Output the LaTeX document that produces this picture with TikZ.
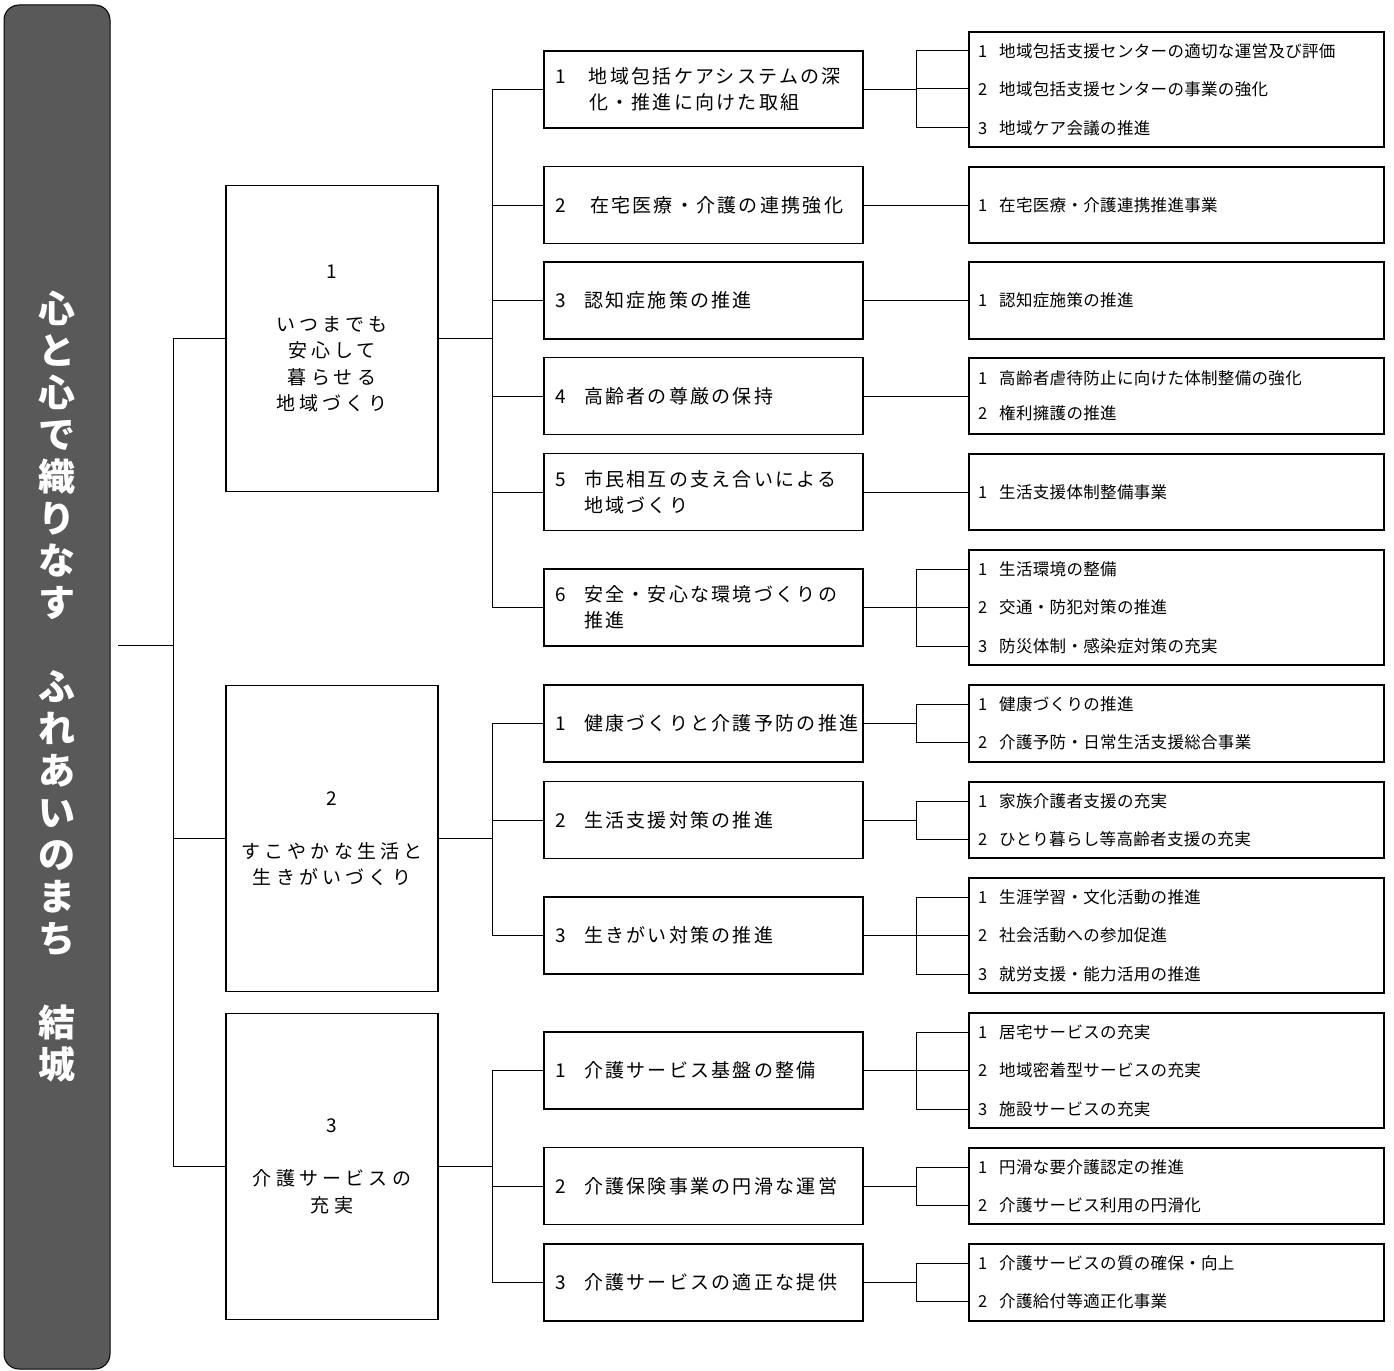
\documentclass[tikz,border=0pt]{standalone}
\usepackage{fontspec}
\setmainfont{Noto Sans CJK JP}
\newfontfamily\goalfont[LetterSpace=22]{Noto Sans CJK JP}
\newfontfamily\boxfont[LetterSpace=12]{Noto Sans CJK JP}
\newfontfamily\itemfont[LetterSpace=2]{Noto Sans CJK JP}
\usetikzlibrary{positioning,calc}
\definecolor{bargray}{RGB}{89,89,89}
\newcommand\pno[2][29pt]{\makebox[#1][l]{#2}}
\newcommand\mno[1]{\makebox[21pt][l]{#1}}
\tikzset{%
  vision bar/.style={%
    draw,
    line width=1pt,
    fill=bargray,
    rounded corners=15pt,
    minimum width=106pt,
    minimum height=1364pt,
    inner sep=0pt,
    align=center,
    text=white,
    font=\bfseries\fontsize{37}{42}\selectfont
  }
}
\tikzset{%
  goal box/.style={%
    draw,
    line width=1.2pt,
    minimum width=212pt,
    minimum height=306pt,
    inner sep=0pt,
    align=center,
    font=\goalfont\fontsize{19}{26.5}\selectfont
  }
}
\tikzset{%
  policy box/.style={%
    draw,
    line width=1.2pt,
    text width=297pt,
    inner xsep=11pt,
    minimum height=77pt,
    align=left,
    font=\boxfont\fontsize{19}{26.5}\selectfont
  }
}
\tikzset{%
  measure box/.style={%
    draw,
    line width=1.2pt,
    minimum width=415pt,
    inner sep=0pt
  }
}
\tikzset{%
  measure/.style={%
    anchor=west,
    inner sep=0pt,
    font=\itemfont\fontsize{16.5}{20}\selectfont
  }
}
\tikzset{%
  link/.style={%
    line width=1pt
  }
}
\begin{document}
\begin{tikzpicture}[x=1pt,y=-1pt]
  \useasboundingbox (0,0) rectangle (1394,1370);
  % vision
  \node [vision bar] (vision) at (57,687) {心\\と\\心\\で\\織\\り\\な\\す\\[42pt]ふ\\れ\\あ\\い\\の\\ま\\ち\\[42pt]結\\城};
  % goals
  \node [goal box] (g1) at (332,338.5) {1\\[26.5pt]いつまでも\\安心して\\暮らせる\\地域づくり};
  \node [goal box] (g2) at (332,838.5) {2\\[26.5pt]すこやかな生活と\\生きがいづくり};
  \node [goal box] (g3) at (332,1166.5) {3\\[26.5pt]介護サービスの\\充実};
  \coordinate (root) at (118,645);
  \coordinate (j0) at (173,645);
  \draw [link] (root) -- (j0);
  \draw [link] (g1.west) -- (g1.west -| j0) -- (g3.west -| j0) -- (g3.west);
  \draw [link] (g2.west) -- (g2.west -| j0);
  % policies
  \node [policy box] (p11) at (703.5,89.5) {\pno[34pt]{1}地域包括ケアシステムの深\\\pno[34pt]{}化・推進に向けた取組};
  \node [policy box] (p12) at (703.5,205) {\pno[35pt]{2}在宅医療・介護の連携強化};
  \node [policy box] (p13) at (703.5,300.5) {\pno{3}認知症施策の推進};
  \node [policy box] (p14) at (703.5,396) {\pno{4}高齢者の尊厳の保持};
  \node [policy box] (p15) at (703.5,492) {\pno{5}市民相互の支え合いによる\\\pno{}地域づくり};
  \node [policy box] (p16) at (703.5,607.5) {\pno{6}安全・安心な環境づくりの\\\pno{}推進};
  \node [policy box] (p21) at (703.5,723.5) {\pno{1}健康づくりと介護予防の推進};
  \node [policy box] (p22) at (703.5,820) {\pno{2}生活支援対策の推進};
  \node [policy box] (p23) at (703.5,935.5) {\pno{3}生きがい対策の推進};
  \node [policy box] (p31) at (703.5,1070.5) {\pno{1}介護サービス基盤の整備};
  \node [policy box] (p32) at (703.5,1186) {\pno{2}介護保険事業の円滑な運営};
  \node [policy box] (p33) at (703.5,1282.5) {\pno{3}介護サービスの適正な提供};
  \coordinate (j1) at (492,0);
  \foreach \g/\first/\last/\all in {g1/p11/p16/{p11,p12,p13,p14,p15,p16},g2/p21/p23/{p21,p22,p23},g3/p31/p33/{p31,p32,p33}} {
    \draw [link] (\g.east) -- (\g.east -| j1);
    \draw [link] (\first.west -| j1) -- (\last.west -| j1);
    \foreach \p in \all
      \draw [link] (\p.west) -- (\p.west -| j1);
  }
  % measures
  \node [measure box, minimum height=115pt] (m11) at (1176.5,89.5) {};
  \node [measure box, minimum height=76pt] (m12) at (1176.5,205) {};
  \node [measure box, minimum height=77pt] (m13) at (1176.5,300.5) {};
  \node [measure box, minimum height=76pt] (m14) at (1176.5,396) {};
  \node [measure box, minimum height=76pt] (m15) at (1176.5,492) {};
  \node [measure box, minimum height=115pt] (m16) at (1176.5,607.5) {};
  \node [measure box, minimum height=77pt] (m21) at (1176.5,723.5) {};
  \node [measure box, minimum height=76pt] (m22) at (1176.5,820) {};
  \node [measure box, minimum height=115pt] (m23) at (1176.5,935.5) {};
  \node [measure box, minimum height=115pt] (m31) at (1176.5,1070.5) {};
  \node [measure box, minimum height=76pt] (m32) at (1176.5,1186) {};
  \node [measure box, minimum height=77pt] (m33) at (1176.5,1282.5) {};
  \node [measure] (m11-1) at (978,51) {\mno{1}地域包括支援センターの適切な運営及び評価};
  \node [measure] (m11-2) at (978,89) {\mno{2}地域包括支援センターの事業の強化};
  \node [measure] (m11-3) at (978,128) {\mno{3}地域ケア会議の推進};
  \node [measure] (m12-1) at (978,205) {\mno{1}在宅医療・介護連携推進事業};
  \node [measure] (m13-1) at (978,300) {\mno{1}認知症施策の推進};
  \node [measure] (m14-1) at (978,378) {\mno{1}高齢者虐待防止に向けた体制整備の強化};
  \node [measure] (m14-2) at (978,413) {\mno{2}権利擁護の推進};
  \node [measure] (m15-1) at (978,492) {\mno{1}生活支援体制整備事業};
  \node [measure] (m16-1) at (978,569) {\mno{1}生活環境の整備};
  \node [measure] (m16-2) at (978,607) {\mno{2}交通・防犯対策の推進};
  \node [measure] (m16-3) at (978,646) {\mno{3}防災体制・感染症対策の充実};
  \node [measure] (m21-1) at (978,704) {\mno{1}健康づくりの推進};
  \node [measure] (m21-2) at (978,742) {\mno{2}介護予防・日常生活支援総合事業};
  \node [measure] (m22-1) at (978,801) {\mno{1}家族介護者支援の充実};
  \node [measure] (m22-2) at (978,839) {\mno{2}ひとり暮らし等高齢者支援の充実};
  \node [measure] (m23-1) at (978,897) {\mno{1}生涯学習・文化活動の推進};
  \node [measure] (m23-2) at (978,935) {\mno{2}社会活動への参加促進};
  \node [measure] (m23-3) at (978,974) {\mno{3}就労支援・能力活用の推進};
  \node [measure] (m31-1) at (978,1032) {\mno{1}居宅サービスの充実};
  \node [measure] (m31-2) at (978,1070) {\mno{2}地域密着型サービスの充実};
  \node [measure] (m31-3) at (978,1109) {\mno{3}施設サービスの充実};
  \node [measure] (m32-1) at (978,1167) {\mno{1}円滑な要介護認定の推進};
  \node [measure] (m32-2) at (978,1205) {\mno{2}介護サービス利用の円滑化};
  \node [measure] (m33-1) at (978,1263) {\mno{1}介護サービスの質の確保・向上};
  \node [measure] (m33-2) at (978,1301) {\mno{2}介護給付等適正化事業};
  \coordinate (j2) at (916,0);
  \foreach \p/\m in {p12/m12,p13/m13,p14/m14,p15/m15}
    \draw [link] (\p.east) -- (\p.east -| \m.west);
  \foreach \p/\m/\n in {p11/m11/3,p16/m16/3,p21/m21/2,p22/m22/2,p23/m23/3,p31/m31/3,p32/m32/2,p33/m33/2} {
    \draw [link] (\p.east) -- (\p.east -| j2);
    \draw [link] (\m-1.west -| j2) -- (\m-\n.west -| j2);
    \foreach \k in {1,...,\n}
      \draw [link] (\m-\k.west -| j2) -- (\m-\k.west -| \m.west);
  }
\end{tikzpicture}
\end{document}
